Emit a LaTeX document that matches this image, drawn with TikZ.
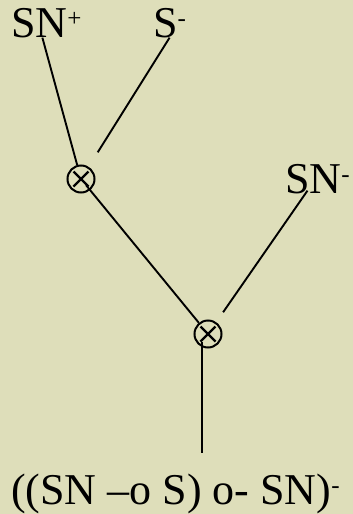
\documentclass[tikz,border=0pt]{standalone}
\usepackage{fontspec}
\setmainfont{Liberation Serif}
\usetikzlibrary{positioning}
\definecolor{bgolive}{RGB}{222,222,186}
\newcommand{\supmk}[1]{\raisebox{11pt}{\fontsize{25}{25}\selectfont #1}}

\begin{document}
\begin{tikzpicture}[x=1pt, y=-1pt,
    wire/.style={line width=1.9pt},
    term/.style={font=\fontsize{44}{48}\selectfont, anchor=base west, inner sep=0pt},
    otimes/.style={circle, draw, line width=2pt, minimum size=27pt, inner sep=0pt,
      path picture={\draw[line width=2.2pt]
        ([shift={(-7.5pt,-7.5pt)}]path picture bounding box.center) -- ++(15pt,15pt)
        ([shift={(-7.5pt,7.5pt)}]path picture bounding box.center) -- ++(15pt,-15pt);}}
  ]
  \fill[bgolive] (0,0) rectangle (353,514);
  \useasboundingbox (0,0) rectangle (353,514);

  % Premises
  \node[term] (snp) at (11,37) {SN\supmk{+}};
  \node[term] (sm) at (153,37) {S\supmk{-}};
  \node[term] (snm) at (285,193) {SN\supmk{-}};

  % Links
  \node[otimes] (c1) at (81,179) {};
  \node[otimes] (c2) at (208,334) {};

  % Conclusion
  \node[term] (res) at (11,504) {((SN –o S) o- SN)\supmk{-}};
  \coordinate (stem) at (202,453);

  \draw[wire] ([xshift=-4pt]snp.south) -- (c1);
  \draw[wire, shorten >=17pt] (sm.south) -- (c1);
  \draw[wire, shorten <=8pt] (c1.center) -- (c2);
  \draw[wire, shorten >=12pt] ([xshift=-10pt, yshift=3pt]snm.south) -- (c2);
  \draw[wire] ([xshift=-6pt, yshift=-8pt]c2.center) -- (stem);
\end{tikzpicture}
\end{document}
